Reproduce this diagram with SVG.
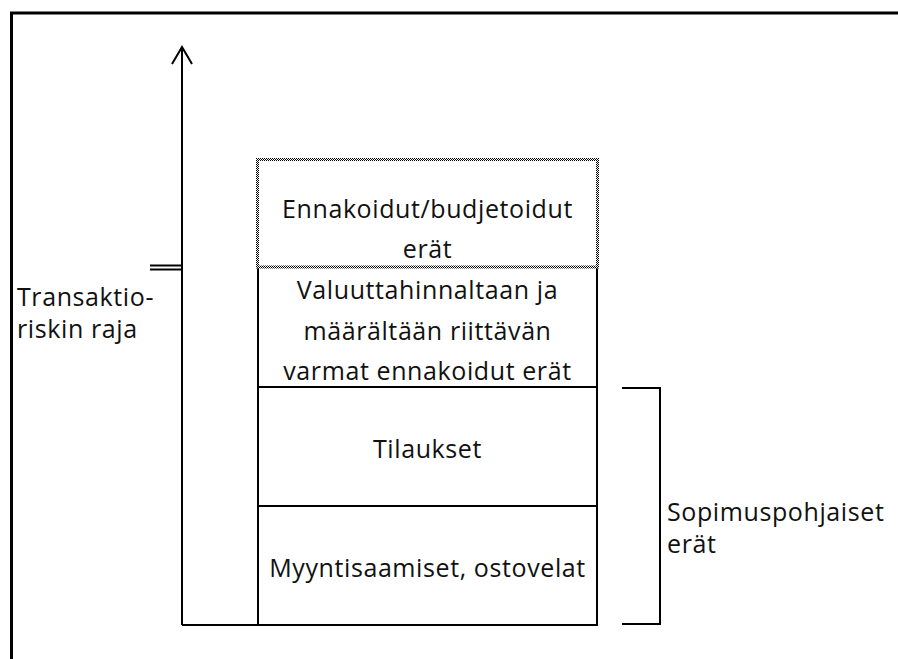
<svg xmlns="http://www.w3.org/2000/svg" width="898" height="659" viewBox="0 0 898 659">
  <defs>
    <pattern id="hatch" width="2" height="2" patternUnits="userSpaceOnUse">
      <rect width="2" height="2" fill="#ffffff"/>
      <rect width="1" height="1" fill="#000000"/>
      <rect x="1" y="1" width="1" height="1" fill="#000000"/>
    </pattern>
  </defs>
  <style>
    .ln { stroke: #000; stroke-width: 2; fill: none; }
    .frame { stroke: #000; stroke-width: 3; fill: none; }
    .box { stroke: #000; stroke-width: 2; fill: #fff; }
    .t { font-family: "Open Sans", "Liberation Sans", sans-serif; font-size: 25px; fill: #111; letter-spacing: 0.6px; }
    .c { text-anchor: middle; }
  </style>
  <rect width="898" height="659" fill="#fff"/>
  <g id="frame">
    <polyline class="frame" points="11.5,659 11.5,13 898,13"/>
  </g>
  <g id="connectors">
    <line class="ln" x1="182" y1="47" x2="182" y2="625"/>
    <polyline class="ln" points="172,64 182,47 192,64"/>
    <line class="ln" x1="182" y1="625" x2="597" y2="625"/>
    <line class="ln" x1="150" y1="265.5" x2="182" y2="265.5"/>
    <line class="ln" x1="150" y1="269.5" x2="182" y2="269.5"/>
    <polyline class="ln" points="622,388 660,388 660,624 622,624"/>
  </g>
  <g id="box-myyntisaamiset">
    <rect class="box" x="258" y="506" width="339" height="119"/>
    <text class="t c" x="427.5" y="577">Myyntisaamiset, ostovelat</text>
  </g>
  <g id="box-tilaukset">
    <rect class="box" x="258" y="387" width="339" height="119"/>
    <text class="t c" x="427.5" y="458">Tilaukset</text>
  </g>
  <g id="box-varmat">
    <rect class="box" x="258" y="267" width="339" height="120"/>
    <text class="t c" x="427.5" y="299">Valuuttahinnaltaan ja</text>
    <text class="t c" x="427.5" y="340">määrältään riittävän</text>
    <text class="t c" x="427.5" y="380">varmat ennakoidut erät</text>
  </g>
  <g id="box-ennakoidut">
    <rect x="257.5" y="159.5" width="340" height="107.5" fill="#fff" stroke="url(#hatch)" stroke-width="3"/>
    <text class="t c" x="427.5" y="218">Ennakoidut/budjetoidut</text>
    <text class="t c" x="427.5" y="258">erät</text>
  </g>
  <g id="label-transaktio">
    <text class="t" x="17" y="306">Transaktio-</text>
    <text class="t" x="17" y="338">riskin raja</text>
  </g>
  <g id="label-sopimus">
    <text class="t" x="667" y="521">Sopimuspohjaiset</text>
    <text class="t" x="667" y="553">erät</text>
  </g>
</svg>
